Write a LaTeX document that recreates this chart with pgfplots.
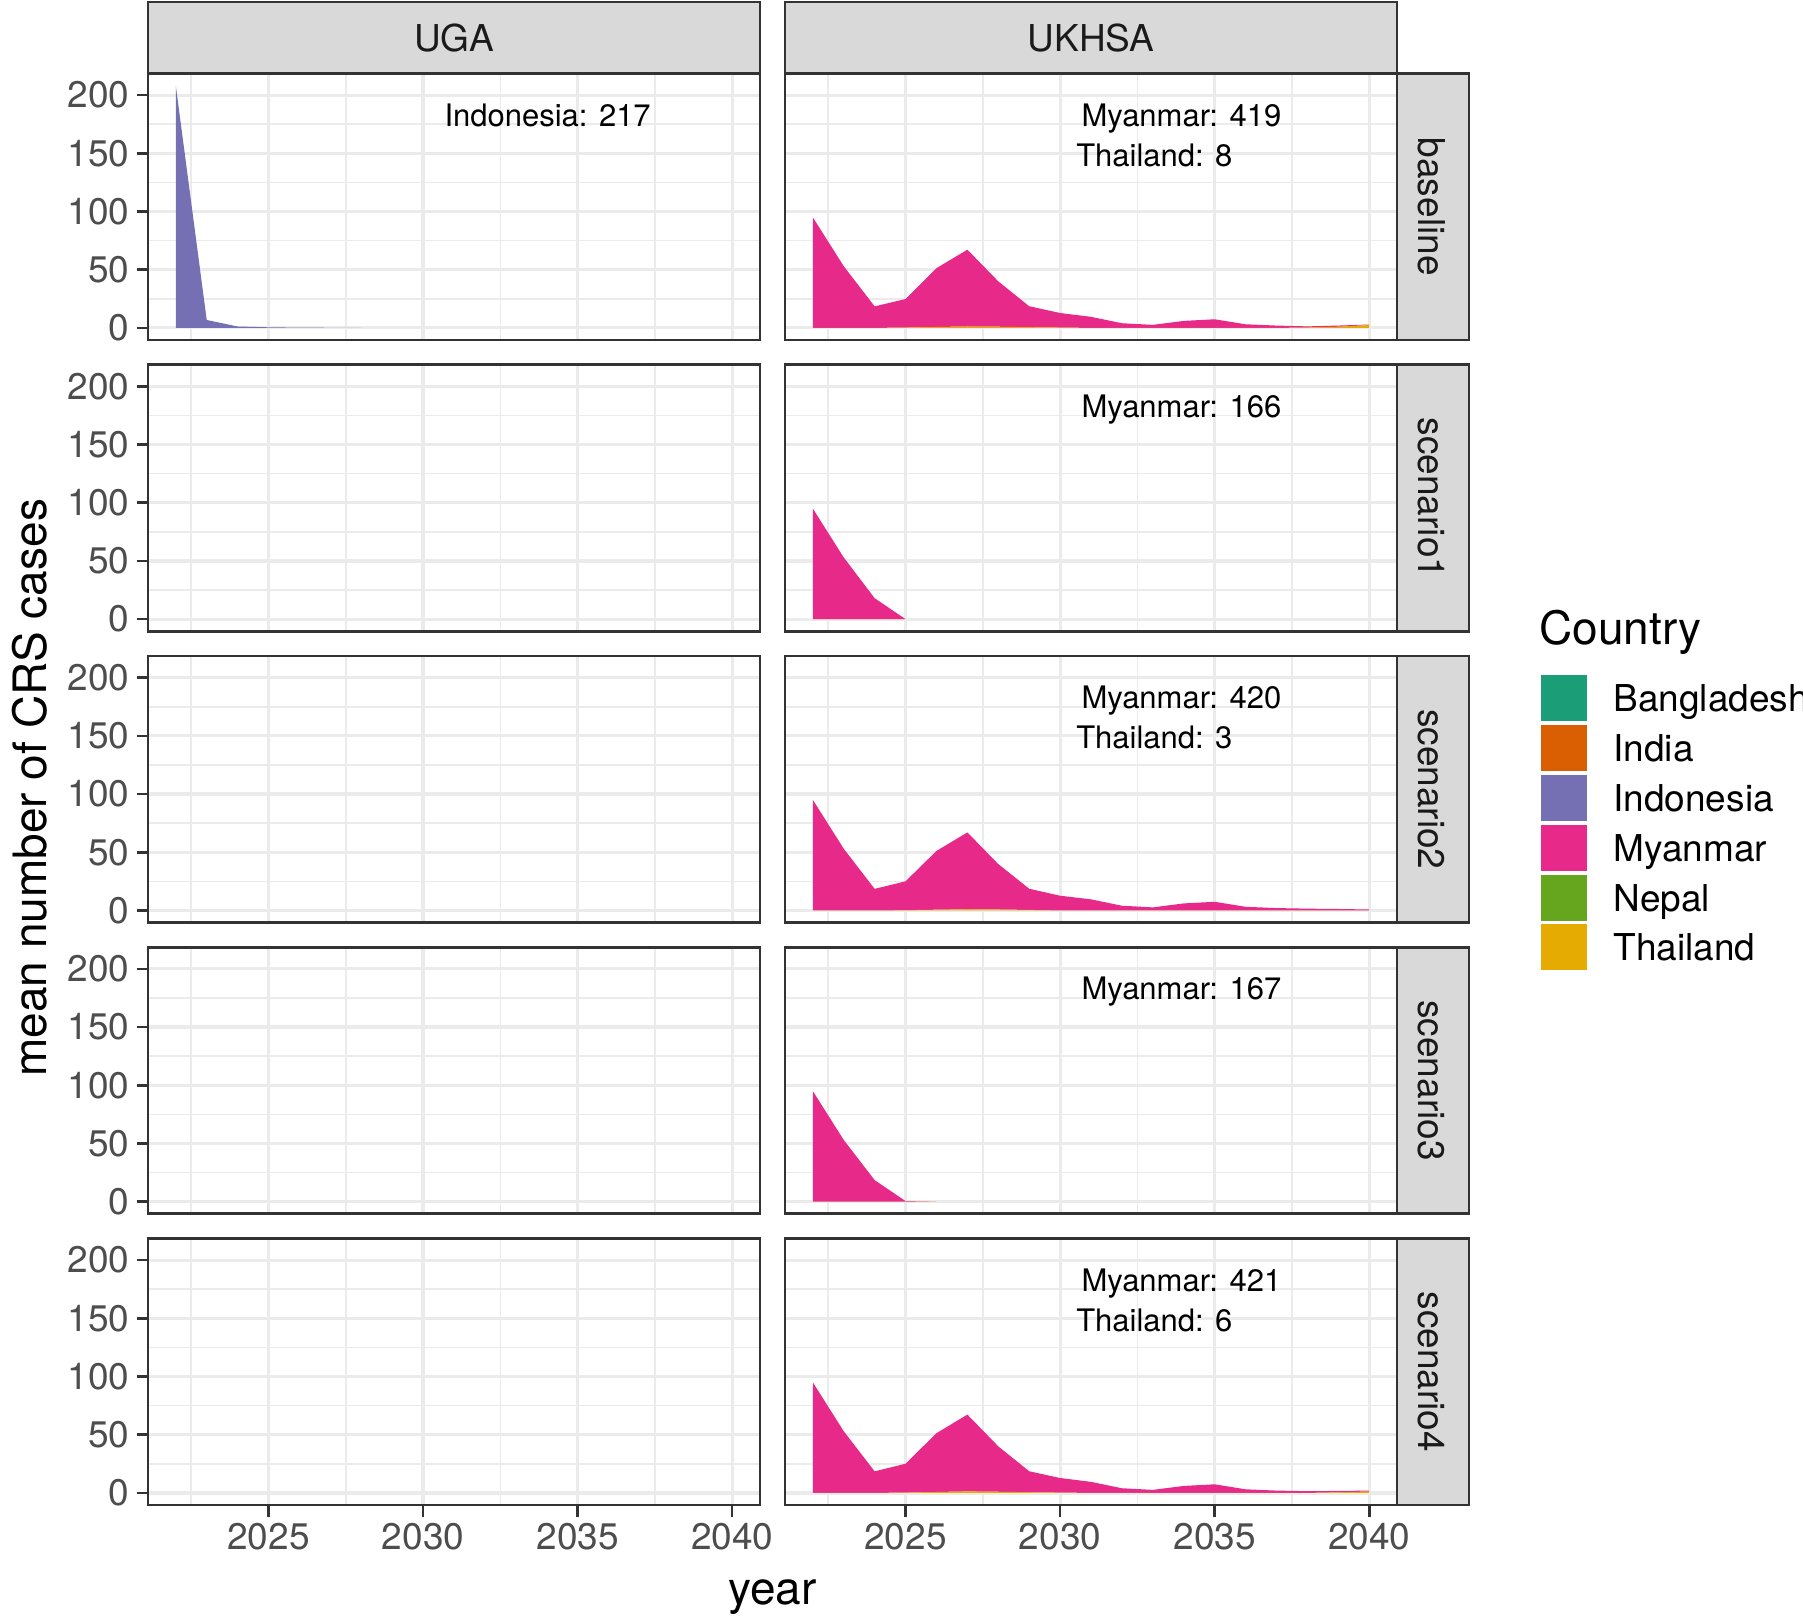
\documentclass[border=0pt]{standalone}
\usepackage{pgfplots}
\pgfplotsset{compat=1.18}
\usepackage{pgfplotstable}
\usepackage{fontspec}
\setmainfont{TeX Gyre Heros}

\definecolor{gridc}{HTML}{EBEBEB}
\definecolor{frame}{HTML}{333333}
\definecolor{stripc}{HTML}{D9D9D9}
\definecolor{ticklab}{HTML}{4D4D4D}
\definecolor{striptext}{HTML}{1A1A1A}
\definecolor{cBan}{HTML}{1B9E77}
\definecolor{cInd}{HTML}{D95F02}
\definecolor{cIdo}{HTML}{7570B3}
\definecolor{cMya}{HTML}{E7298A}
\definecolor{cNep}{HTML}{66A61E}
\definecolor{cTha}{HTML}{E6AB02}

% UGA baseline: Indonesia
\pgfplotstableread{
year ido
2022 208
2023 6.8
2024 1.2
2025 0.5
2026 0.2
2027 0.1
2028 0
}\ugabase

% UKHSA baseline
\pgfplotstableread{
year tha mya
2022 0 95
2023 0 53
2024 0 18.5
2025 0.3 24.5
2026 0.8 50.5
2027 1.2 66
2028 1.0 39
2029 0.6 18
2030 0.3 12.5
2031 0 9.5
2032 0 4
2033 0 2.6
2034 0 6
2035 0 7.4
2036 0 3.1
2037 0 2
2038 0.3 1
2039 1.0 1.0
2040 2.4 0.5
}\ukbase

% UKHSA scenario1
\pgfplotstableread{
year tha mya
2022 0 95
2023 0 53
2024 0 18
2025 0 0
}\ukone

% UKHSA scenario2
\pgfplotstableread{
year tha mya
2022 0 95
2023 0 53
2024 0 18.5
2025 0.2 24.8
2026 0.6 50.5
2027 1.0 66
2028 0.8 39
2029 0.4 18.2
2030 0 12.6
2031 0 9.5
2032 0 4
2033 0 2.6
2034 0 6
2035 0 7.4
2036 0 3.1
2037 0 2
2038 0 1.5
2039 0 1.2
2040 0 0.8
}\uktwo

% UKHSA scenario3
\pgfplotstableread{
year tha mya
2022 0 95
2023 0 53
2024 0 18.5
2025 0 0.5
2026 0 0
}\ukthree

% UKHSA scenario4
\pgfplotstableread{
year tha mya
2022 0 95
2023 0 53
2024 0 18.5
2025 0.3 24.8
2026 0.8 50.5
2027 1.3 66
2028 1.0 39
2029 0.6 18
2030 0.3 12.5
2031 0 9.5
2032 0 4
2033 0 2.6
2034 0 6
2035 0 7.4
2036 0 3.1
2037 0 2
2038 0 1.5
2039 0.5 1.2
2040 1.2 0.8
}\ukfour

\pgfplotsset{
  panel/.style={
    scale only axis, width=306pt, height=133.25pt,
    anchor=south west,
    xmin=2021.1, xmax=2040.9, ymin=-10.4, ymax=218.6,
    xtick={2025,2030,2035,2040}, xticklabels={2025,2030,2035,2040},
    minor xtick={2022.5,2027.5,2032.5,2037.5},
    ytick={0,50,100,150,200}, yticklabels={0,50,100,150,200},
    minor ytick={25,75,125,175},
    grid=both,
    major grid style={line width=1.6pt, draw=gridc},
    minor grid style={line width=0.8pt, draw=gridc},
    axis line style={line width=1.3pt, draw=frame},
    tick align=outside, major tick length=5.75pt, minor tick length=0pt,
    major tick style={line width=1.3pt, draw=frame},
    xtick pos=bottom, ytick pos=left,
    ticklabel style={font=\fontsize{18.5}{22}\selectfont, text=ticklab},
    stack plots=y,
  },
  innerx/.style={xmajorticks=false},
  innery/.style={ymajorticks=false},
}
\tikzset{anno/.style={font=\fontsize{15.5}{18}\selectfont, text=black, anchor=base west, inner sep=0pt}}

\begin{document}
\begin{tikzpicture}
\useasboundingbox (0,0) rectangle (901.5pt,809.5pt);

% ---------- column UGA ----------
\begin{axis}[panel, innerx, at={(74pt,639.5pt)}]
  \addplot[fill=cIdo, draw=none] table[x=year,y=ido]{\ugabase} \closedcycle;
  \node[anno] at (axis cs:2030.68,173.4) {Indonesia: 217};
\end{axis}
\begin{axis}[panel, innerx, at={(74pt,493.875pt)}]
\end{axis}
\begin{axis}[panel, innerx, at={(74pt,348.25pt)}]
\end{axis}
\begin{axis}[panel, innerx, at={(74pt,202.625pt)}]
\end{axis}
\begin{axis}[panel, at={(74pt,57pt)}]
\end{axis}

% ---------- column UKHSA ----------
\begin{axis}[panel, innerx, innery, at={(392.5pt,639.5pt)}]
  \addplot[fill=cTha, draw=none] table[x=year,y=tha]{\ukbase} \closedcycle;
  \addplot[fill=cMya, draw=none] table[x=year,y=mya]{\ukbase} \closedcycle;
  \node[anno] at (axis cs:2030.68,173.4) {Myanmar: 419};
  \node[anno] at (axis cs:2030.51,139) {Thailand: 8};
\end{axis}
\begin{axis}[panel, innerx, innery, at={(392.5pt,493.875pt)}]
  \addplot[fill=cTha, draw=none] table[x=year,y=tha]{\ukone} \closedcycle;
  \addplot[fill=cMya, draw=none] table[x=year,y=mya]{\ukone} \closedcycle;
  \node[anno] at (axis cs:2030.68,173.4) {Myanmar: 166};
\end{axis}
\begin{axis}[panel, innerx, innery, at={(392.5pt,348.25pt)}]
  \addplot[fill=cTha, draw=none] table[x=year,y=tha]{\uktwo} \closedcycle;
  \addplot[fill=cMya, draw=none] table[x=year,y=mya]{\uktwo} \closedcycle;
  \node[anno] at (axis cs:2030.68,173.4) {Myanmar: 420};
  \node[anno] at (axis cs:2030.51,139) {Thailand: 3};
\end{axis}
\begin{axis}[panel, innerx, innery, at={(392.5pt,202.625pt)}]
  \addplot[fill=cTha, draw=none] table[x=year,y=tha]{\ukthree} \closedcycle;
  \addplot[fill=cMya, draw=none] table[x=year,y=mya]{\ukthree} \closedcycle;
  \node[anno] at (axis cs:2030.68,173.4) {Myanmar: 167};
\end{axis}
\begin{axis}[panel, innery, at={(392.5pt,57pt)}]
  \addplot[fill=cTha, draw=none] table[x=year,y=tha]{\ukfour} \closedcycle;
  \addplot[fill=cMya, draw=none] table[x=year,y=mya]{\ukfour} \closedcycle;
  \node[anno] at (axis cs:2030.68,173.4) {Myanmar: 421};
  \node[anno] at (axis cs:2030.51,139) {Thailand: 6};
\end{axis}

% ---------- top strips ----------
\draw[fill=stripc, draw=frame, line width=1.3pt] (74pt,772.75pt) rectangle (380pt,808.5pt);
\draw[fill=stripc, draw=frame, line width=1.3pt] (392.5pt,772.75pt) rectangle (698.5pt,808.5pt);
\node[anchor=base, font=\fontsize{18.5}{22}\selectfont, text=striptext] at (227pt,783.5pt) {UGA};
\node[anchor=base, font=\fontsize{18.5}{22}\selectfont, text=striptext] at (545.5pt,783.5pt) {UKHSA};

% ---------- right strips ----------
\foreach \yb/\lab in {639.5/baseline, 493.875/scenario1, 348.25/scenario2, 202.625/scenario3, 57/scenario4}{
  \draw[fill=stripc, draw=frame, line width=1.3pt] (698.5pt,\yb pt) rectangle (734.5pt,\yb pt+133.25pt);
  \node[anchor=base, rotate=-90, font=\fontsize{18.5}{22}\selectfont, text=striptext] at (709pt,\yb pt+66.625pt) {\lab};
}

% ---------- axis titles ----------
\node[anchor=base, rotate=90, font=\fontsize{23}{27}\selectfont] at (23pt,415.6pt) {mean number of CRS cases};
\node[anchor=base, font=\fontsize{23}{27}\selectfont] at (386.25pt,7.5pt) {year};

% ---------- legend ----------
\node[anchor=base west, inner sep=0pt, font=\fontsize{23}{27}\selectfont] at (769.5pt,487pt) {Country};
\foreach \yt/\col/\lab in {472/cBan/Bangladesh, 447/cInd/India, 422/cIdo/Indonesia, 397/cMya/Myanmar, 372/cNep/Nepal, 347.5/cTha/Thailand}{
  \fill[\col] (770.5pt,\yt pt) rectangle (793.5pt,\yt pt-23pt);
  \node[anchor=base west, inner sep=0pt, font=\fontsize{18.5}{22}\selectfont] at (806.5pt,\yt pt-18.25pt) {\lab};
}
\end{tikzpicture}
\end{document}
